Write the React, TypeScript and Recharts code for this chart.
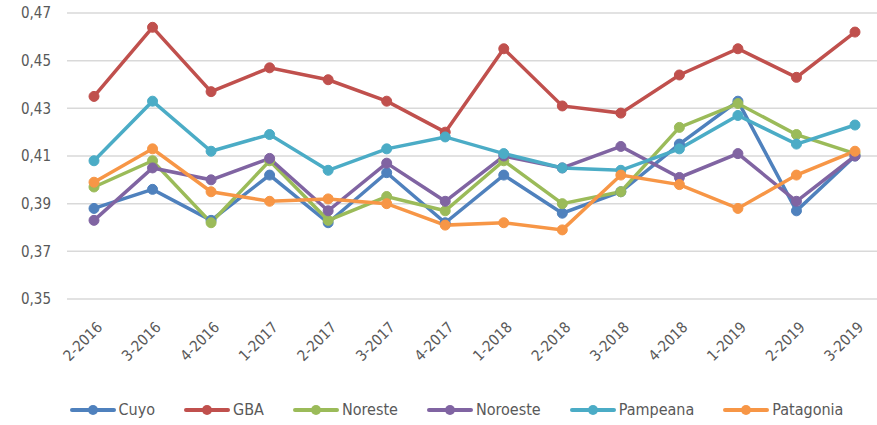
import React from 'react'
import { LineChart, Line, XAxis, YAxis, CartesianGrid, Legend } from 'recharts'

const quarters = [
  '2-2016', '3-2016', '4-2016', '1-2017', '2-2017', '3-2017', '4-2017',
  '1-2018', '2-2018', '3-2018', '4-2018', '1-2019', '2-2019', '3-2019'
]

const cuyo = [0.388, 0.396, 0.383, 0.402, 0.382, 0.403, 0.382, 0.402, 0.386, 0.395, 0.415, 0.433, 0.387, 0.410]
const gba = [0.435, 0.464, 0.437, 0.447, 0.442, 0.433, 0.420, 0.455, 0.431, 0.428, 0.444, 0.455, 0.443, 0.462]
const noreste = [0.397, 0.408, 0.382, 0.408, 0.383, 0.393, 0.387, 0.408, 0.390, 0.395, 0.422, 0.432, 0.419, 0.411]
const noroeste = [0.383, 0.405, 0.400, 0.409, 0.387, 0.407, 0.391, 0.410, 0.405, 0.414, 0.401, 0.411, 0.391, 0.410]
const pampeana = [0.408, 0.433, 0.412, 0.419, 0.404, 0.413, 0.418, 0.411, 0.405, 0.404, 0.413, 0.427, 0.415, 0.423]
const patagonia = [0.399, 0.413, 0.395, 0.391, 0.392, 0.390, 0.381, 0.382, 0.379, 0.402, 0.398, 0.388, 0.402, 0.412]

const yTicks = [0.35, 0.37, 0.39, 0.41, 0.43, 0.45, 0.47]

const series = [
  { key: 'Cuyo', values: cuyo, color: '#4F81BD' },
  { key: 'GBA', values: gba, color: '#C0504D' },
  { key: 'Noreste', values: noreste, color: '#9BBB59' },
  { key: 'Noroeste', values: noroeste, color: '#8064A2' },
  { key: 'Pampeana', values: pampeana, color: '#4BACC6' },
  { key: 'Patagonia', values: patagonia, color: '#F79646' }
]

const data = quarters.map((q, i) => {
  const row: any = { q }
  series.forEach(s => { row[s.key] = s.values[i] })
  return row
})

const FONT = '"Liberation Sans Narrow", "DejaVu Sans Condensed", "Roboto Condensed", sans-serif'

const AngledTick = ({ x, y, payload }: any) => (
  <g transform={`translate(${x + 5},${y + 17})`}>
    <text
      textAnchor="end"
      transform="rotate(-45)"
      dy={6}
      fontSize={15}
      fill="#595959"
      fontFamily={FONT}
    >
      {payload.value}
    </text>
  </g>
)

const LegendContent = () => (
  <div style={{ display: 'flex', justifyContent: 'center', gap: 29, fontFamily: FONT, fontSize: 16, color: '#595959', paddingLeft: 36 }}>
    {series.map(s => (
      <div key={s.key} style={{ display: 'flex', alignItems: 'center' }}>
        <svg width={46} height={12} style={{ marginRight: 3 }}>
          <line x1={2} y1={6} x2={44} y2={6} stroke={s.color} strokeWidth={4} strokeLinecap="round" />
          <circle cx={23} cy={6} r={5} fill={s.color} />
        </svg>
        <span>{s.key}</span>
      </div>
    ))}
  </div>
)

export default function App() {
  return (
    <div style={{ position: 'absolute', left: 0, top: 0, background: '#fff' }}>
      <LineChart width={877} height={425} data={data} margin={{ top: 13, right: 0, left: 0, bottom: 6 }}>
        <CartesianGrid vertical={false} stroke="#d9d9d9" strokeWidth={1.5} />
        <XAxis
          dataKey="q"
          axisLine={false}
          tickLine={false}
          interval={0}
          height={101}
          padding={{ left: 27, right: 22 }}
          tick={<AngledTick />}
        />
        <YAxis
          domain={[0.35, 0.47]}
          ticks={yTicks}
          width={67}
          axisLine={false}
          tickLine={false}
          tickFormatter={(v: number) => v.toFixed(2).replace('.', ',')}
          tick={{ fontSize: 15, fill: '#595959', fontFamily: FONT }}
          tickMargin={10}
        />
        <Legend verticalAlign="bottom" content={<LegendContent />} />
        {series.map(s => (
          <Line
            key={s.key}
            dataKey={s.key}
            stroke={s.color}
            strokeWidth={3.5}
            dot={{ r: 5, fill: s.color, stroke: s.color, strokeWidth: 1 }}
            isAnimationActive={false}
          />
        ))}
      </LineChart>
    </div>
  )
}
